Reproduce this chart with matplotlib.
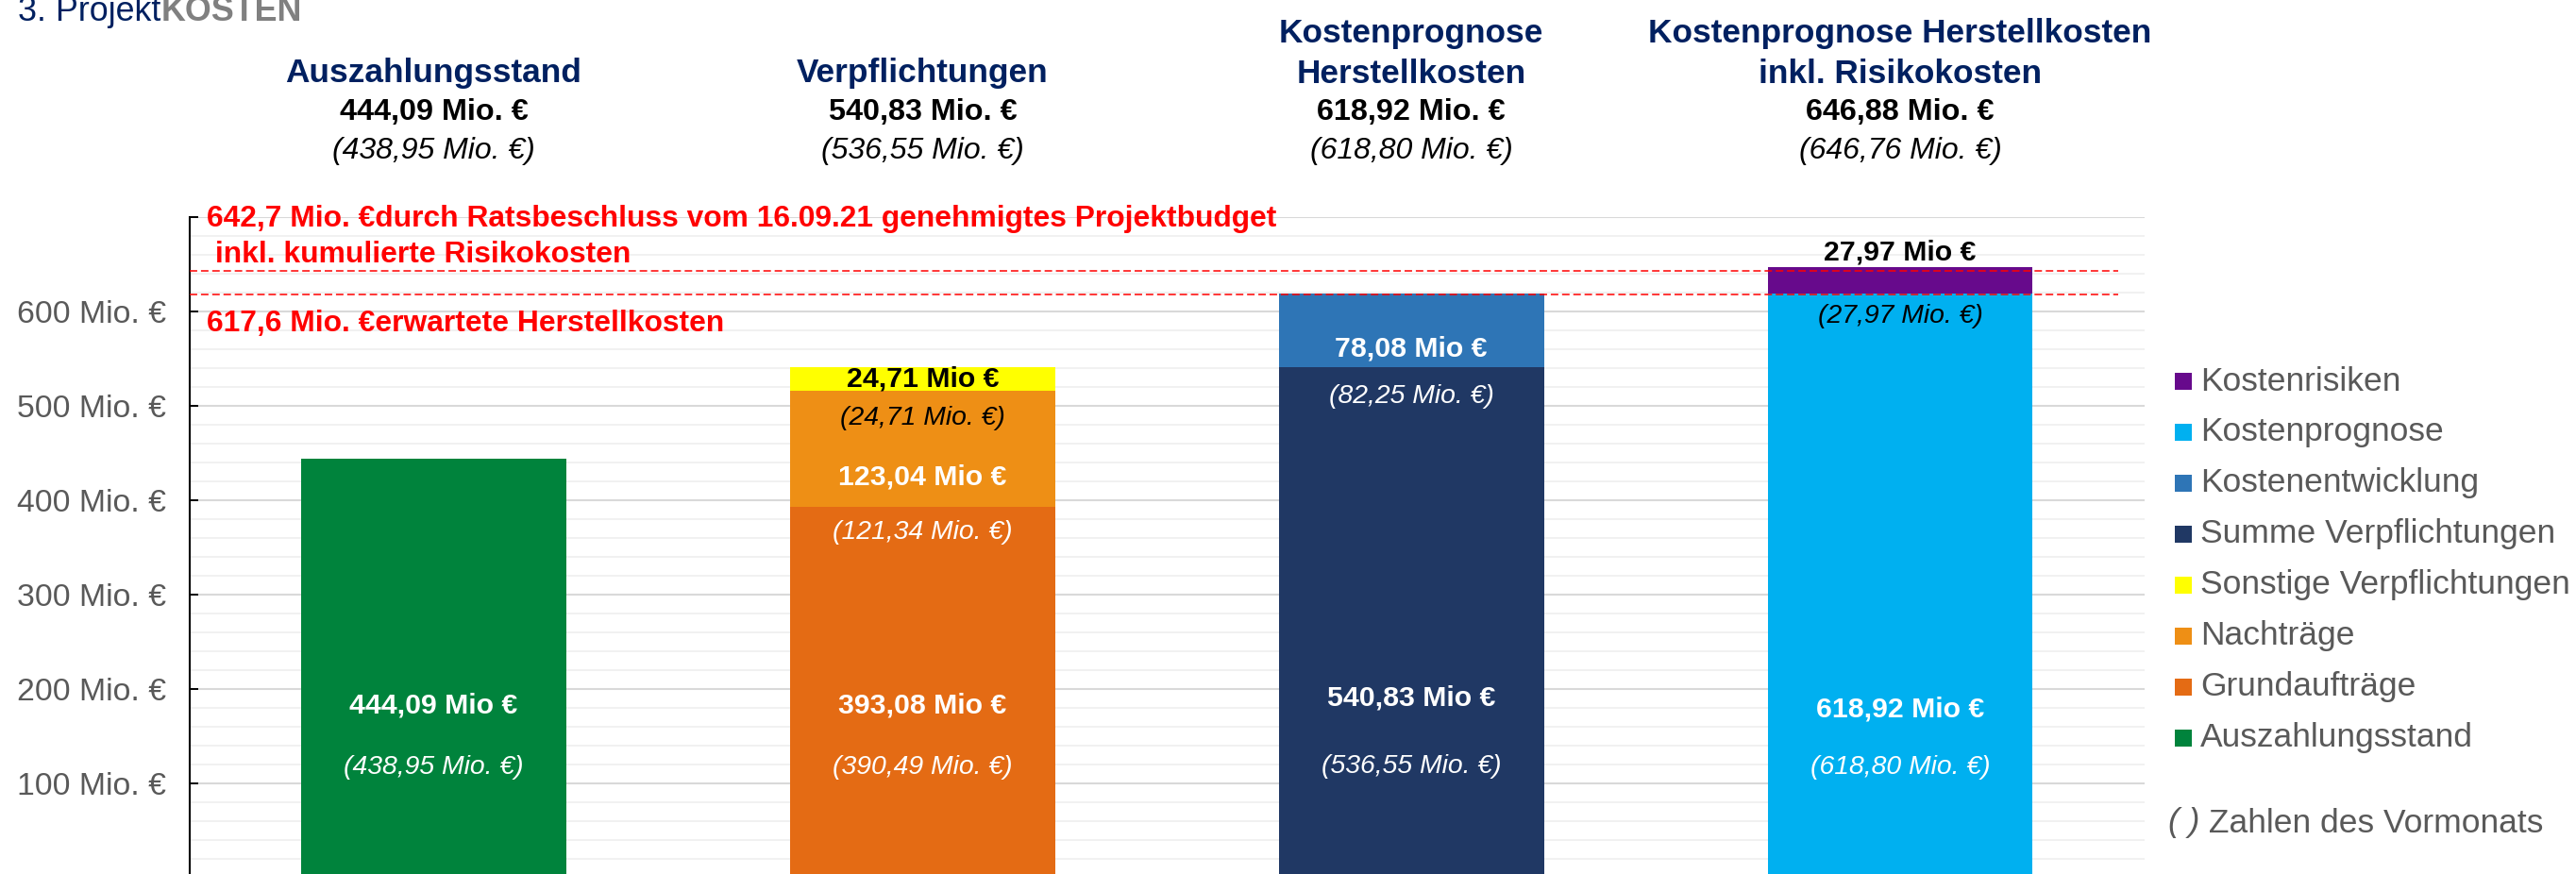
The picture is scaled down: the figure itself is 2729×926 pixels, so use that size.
import matplotlib
matplotlib.use('Agg')
import matplotlib.pyplot as plt
import matplotlib.transforms as mtransforms
from matplotlib.patches import Rectangle
from matplotlib.ticker import MultipleLocator, FuncFormatter
import numpy as np

plt.rcParams['font.family'] = ['Liberation Sans', 'DejaVu Sans']

# ---------------- data ----------------
categories = ['Auszahlungsstand', 'Verpflichtungen',
              'Kostenprognose\nHerstellkosten',
              'Kostenprognose Herstellkosten\ninkl. Risikokosten']
totals = [444.09, 540.83, 618.92, 646.88]
totals_prev = [438.95, 536.55, 618.80, 646.76]

series_names = ['Auszahlungsstand', 'Grundaufträge', 'Nachträge',
                'Sonstige Verpflichtungen', 'Summe Verpflichtungen',
                'Kostenentwicklung', 'Kostenprognose', 'Kostenrisiken']
auszahlungsstand = [444.09, 0, 0, 0]
grundauftraege = [0, 393.08, 0, 0]
nachtraege = [0, 123.04, 0, 0]
sonstige = [0, 24.71, 0, 0]
summe_verpfl = [0, 0, 540.83, 0]
kostenentwicklung = [0, 0, 78.08, 0]
kostenprognose = [0, 0, 0, 618.92]
kostenrisiken = [0, 0, 0, 27.97]

prev_auszahlungsstand = [438.95, 0, 0, 0]
prev_grundauftraege = [0, 390.49, 0, 0]
prev_nachtraege = [0, 121.34, 0, 0]
prev_sonstige = [0, 24.71, 0, 0]
prev_summe_verpfl = [0, 0, 536.55, 0]
prev_kostenentwicklung = [0, 0, 82.25, 0]
prev_kostenprognose = [0, 0, 0, 618.80]
prev_kostenrisiken = [0, 0, 0, 27.97]

budget_total = 642.7
budget_herstell = 617.6
yticks = [0, 100, 200, 300, 400, 500, 600, 700]

series_values = [auszahlungsstand, grundauftraege, nachtraege, sonstige,
                 summe_verpfl, kostenentwicklung, kostenprognose, kostenrisiken]
series_prev = [prev_auszahlungsstand, prev_grundauftraege, prev_nachtraege,
               prev_sonstige, prev_summe_verpfl, prev_kostenentwicklung,
               prev_kostenprognose, prev_kostenrisiken]

# ---------------- style ----------------
colors = ['#00833C', '#E46B14', '#EE8F15', '#FFFF00',
          '#203864', '#2E75B6', '#00B0F0', '#670A8C']
label_colors = ['white', 'white', 'white', 'black',
                'white', 'white', 'white', 'black']
# y position (data units) of bold label / italic label for each series
label_y = [(183, 117), (182, 117), (424, 366), (529, 487),
           (190, 118), (561, 510), (178, 117), (663, 595)]
NAVY = '#002060'
GRAY = '#595959'

W, H = 2729, 926
fig = plt.figure(figsize=(W / 100, H / 100), dpi=100)


def fx(x):
    return x / W


def fy(y):
    return 1 - y / H


ax = fig.add_axes([fx(200.6), fy(930), fx(2272) - fx(200.6), fy(230) - fy(930)])
ax.set_xlim(-0.5, 3.5)
ax.set_ylim(0, 700)

x = np.arange(len(categories))
bottom = np.zeros(len(categories))
bar_w = 0.542
for name, vals, col in zip(series_names, series_values, colors):
    v = np.array(vals, dtype=float)
    ax.bar(x, v, bottom=bottom, width=bar_w, color=col, linewidth=0, zorder=2)
    bottom += v


def de(v, dec=2):
    return f"{v:.{dec}f}".replace('.', ',')


# segment labels
for vals, prev, lc, (yb, yi) in zip(series_values, series_prev, label_colors, label_y):
    for i, (v, p) in enumerate(zip(vals, prev)):
        if v == 0:
            continue
        ax.text(x[i], yb, f"{de(v)} Mio €", ha='center', va='center',
                fontsize=21.8, fontweight='bold', color=lc, zorder=5)
        ax.text(x[i], yi, f"({de(p)} Mio. €)", ha='center', va='center',
                fontsize=20.4, fontstyle='italic', color=lc, zorder=5)

# reference lines
ax.hlines([budget_total, budget_herstell], -0.5, 3.446, colors='#FF0000',
          linestyles=(0, (5.2, 2.6)), linewidth=1.1, zorder=4)

# grid / axes
ax.yaxis.set_major_locator(plt.FixedLocator(yticks))
ax.yaxis.set_minor_locator(MultipleLocator(20))
ax.grid(which='minor', axis='y', color='#EFEFEF', linewidth=1.2, zorder=0)
ax.grid(which='major', axis='y', color='#D9D9D9', linewidth=1.5, zorder=0)
ax.set_axisbelow(True)
for s in ['top', 'right', 'bottom']:
    ax.spines[s].set_visible(False)
ax.spines['left'].set_color('black')
ax.spines['left'].set_linewidth(1.5)
ax.tick_params(axis='y', which='major', direction='in', length=6.5, width=1.4,
               color='black', pad=18, labelsize=24.3, labelcolor=GRAY)
ax.tick_params(axis='y', which='minor', length=0)
ax.tick_params(axis='x', which='both', length=0, labelbottom=False)
ax.yaxis.set_major_formatter(FuncFormatter(
    lambda v, pos: '' if v <= 0 or v >= 700 else f"{int(v)} Mio. €"))

# headers above bars
bt = mtransforms.blended_transform_factory(ax.transData, fig.transFigure)
for i, cat in enumerate(categories):
    lines = cat.split('\n')
    for k, line in enumerate(reversed(lines)):
        fig.text(x[i], fy(87.5 - 43 * k), line, transform=bt, ha='center',
                 va='baseline', fontsize=25.4, fontweight='bold', color=NAVY)
    fig.text(x[i], fy(127.5), f"{de(totals[i])} Mio. €", transform=bt,
             ha='center', va='baseline', fontsize=23.3, fontweight='bold',
             color='black')
    fig.text(x[i], fy(168), f"({de(totals_prev[i])} Mio. €)", transform=bt,
             ha='center', va='baseline', fontsize=23, fontstyle='italic',
             color='black')

# red annotations
fig.text(fx(219), fy(240),
         f"{de(budget_total, 1)} Mio. €durch Ratsbeschluss vom 16.09.21 genehmigtes Projektbudget",
         fontsize=22.9, fontweight='bold', color='#FF0000', va='baseline')
fig.text(fx(219), fy(278), " inkl. kumulierte Risikokosten",
         fontsize=22.9, fontweight='bold', color='#FF0000', va='baseline')
fig.text(fx(219), fy(351), f"{de(budget_herstell, 1)} Mio. €erwartete Herstellkosten",
         fontsize=22.9, fontweight='bold', color='#FF0000', va='baseline')

# title
t1 = fig.text(fx(19), fy(22), '3. Projekt', fontsize=25.8, color=NAVY, va='baseline')
ax.annotate('KOSTEN', xy=(1, 0), xycoords=t1, ha='left', va='bottom',
            fontsize=25.8, fontweight='bold', color='#808080')

# legend (manual)
leg_order = list(reversed(range(len(series_names))))
for row, si in enumerate(leg_order):
    yc = 404 + 54 * row
    fig.add_artist(Rectangle((fx(2304), fy(yc + 9)), fx(18), 18 / H,
                             transform=fig.transFigure, facecolor=colors[si],
                             edgecolor='none'))
    fig.text(fx(2331), fy(yc), series_names[si], fontsize=25.5, color=GRAY,
             va='center', ha='left')
t2 = fig.text(fx(2297), fy(872), '( )', fontsize=25.5, color=GRAY,
              va='center', ha='left', fontstyle='italic')
ax.annotate(' Zahlen des Vormonats', xy=(1, 0.5), xycoords=t2, ha='left',
            va='center', fontsize=25.5, color=GRAY)

fig.savefig('out.png', dpi=100)
